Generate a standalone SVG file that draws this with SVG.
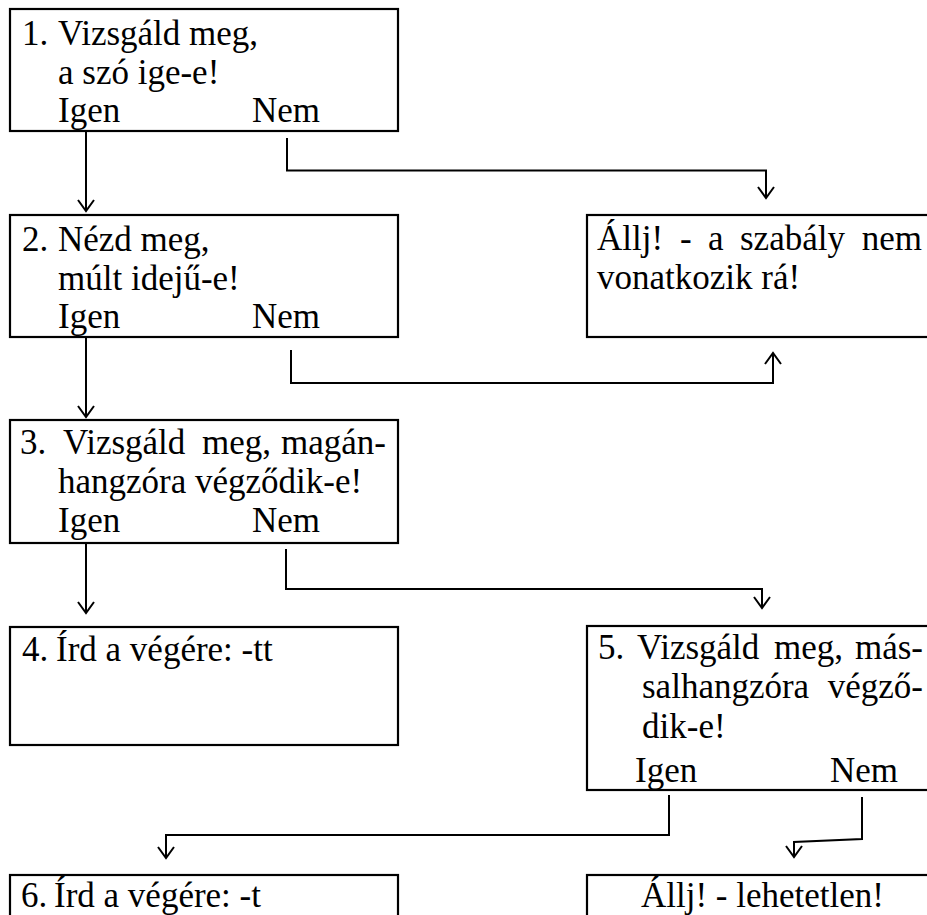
<svg xmlns="http://www.w3.org/2000/svg" width="927" height="915" viewBox="0 0 927 915">
<style>
.box{fill:#fff;stroke:#000;stroke-width:2.2}
.t{font-family:"Liberation Serif","Times New Roman",serif;font-size:35px;fill:#000}
.c{fill:none;stroke:#000;stroke-width:2}
</style>
<defs>
<marker id="arr" viewBox="-13 -10 15 20" refX="0" refY="0" markerWidth="15" markerHeight="20" markerUnits="userSpaceOnUse" orient="auto">
<path d="M-11,-8 L0,0 L-11,8" fill="none" stroke="#000" stroke-width="2" stroke-linejoin="miter"/>
</marker>
</defs>
<rect width="927" height="915" fill="#fff"/>

<g id="connectors">
<path class="c" d="M86,131 V211" marker-end="url(#arr)"/>
<path class="c" d="M287,138 V170.5 H766 V198" marker-end="url(#arr)"/>
<path class="c" d="M86,337 V417" marker-end="url(#arr)"/>
<path class="c" d="M291,350 V383 H773 V353" marker-end="url(#arr)"/>
<path class="c" d="M86,543 V613" marker-end="url(#arr)"/>
<path class="c" d="M286,549 V589 H762 V608" marker-end="url(#arr)"/>
<path class="c" d="M669,795 V835 H166 V858" marker-end="url(#arr)"/>
<path class="c" d="M862,797 V839 L794,842 V857" marker-end="url(#arr)"/>
</g>

<g id="node1">
<rect class="box" x="10" y="9" width="388" height="122"/>
<text class="t" x="22" y="45">1.</text>
<text class="t" x="58" y="45">Vizsgáld meg,</text>
<text class="t" x="58" y="83.5">a szó ige-e!</text>
<text class="t" x="58" y="122">Igen</text>
<text class="t" x="252" y="122">Nem</text>
</g>

<g id="node2">
<rect class="box" x="10" y="215" width="388" height="122"/>
<text class="t" x="22" y="251">2.</text>
<text class="t" x="58" y="251">Nézd meg,</text>
<text class="t" x="58" y="289.5">múlt idejű-e!</text>
<text class="t" x="58" y="328">Igen</text>
<text class="t" x="252" y="328">Nem</text>
</g>

<g id="node-stop1">
<rect class="box" x="587" y="215" width="360" height="122"/>
<text class="t" x="597" y="250">Állj!</text>
<text class="t" x="680" y="250">-</text>
<text class="t" x="708" y="250">a</text>
<text class="t" x="740" y="250">szabály</text>
<text class="t" x="922" y="250" text-anchor="end">nem</text>
<text class="t" x="597" y="289">vonatkozik rá!</text>
</g>

<g id="node3">
<rect class="box" x="10" y="420" width="388" height="123"/>
<text class="t" x="20" y="454">3.</text>
<text class="t" x="63" y="454">Vizsgáld</text>
<text class="t" x="202" y="454">meg,</text>
<text class="t" x="386" y="454" text-anchor="end">magán-</text>
<text class="t" x="58" y="493">hangzóra végződik-e!</text>
<text class="t" x="58" y="532">Igen</text>
<text class="t" x="252" y="532">Nem</text>
</g>

<g id="node4">
<rect class="box" x="10" y="627" width="388" height="118"/>
<text class="t" x="22" y="661">4.</text>
<text class="t" x="56" y="661">Írd a végére: -tt</text>
</g>

<g id="node5">
<rect class="box" x="587" y="626" width="360" height="164"/>
<text class="t" x="598" y="659">5.</text>
<text class="t" x="637" y="659">Vizsgáld</text>
<text class="t" x="774" y="659">meg,</text>
<text class="t" x="923" y="659" text-anchor="end">más-</text>
<text class="t" x="642" y="698">salhangzóra</text>
<text class="t" x="923" y="698" text-anchor="end">végző-</text>
<text class="t" x="642" y="738">dik-e!</text>
<text class="t" x="635" y="782">Igen</text>
<text class="t" x="830" y="782">Nem</text>
</g>

<g id="node6">
<rect class="box" x="10" y="875" width="388" height="60"/>
<text class="t" x="21" y="907">6.</text>
<text class="t" x="54" y="907">Írd a végére: -t</text>
</g>

<g id="node-stop2">
<rect class="box" x="587" y="875" width="360" height="60"/>
<text class="t" x="641" y="907">Állj! - lehetetlen!</text>
</g>
</svg>
